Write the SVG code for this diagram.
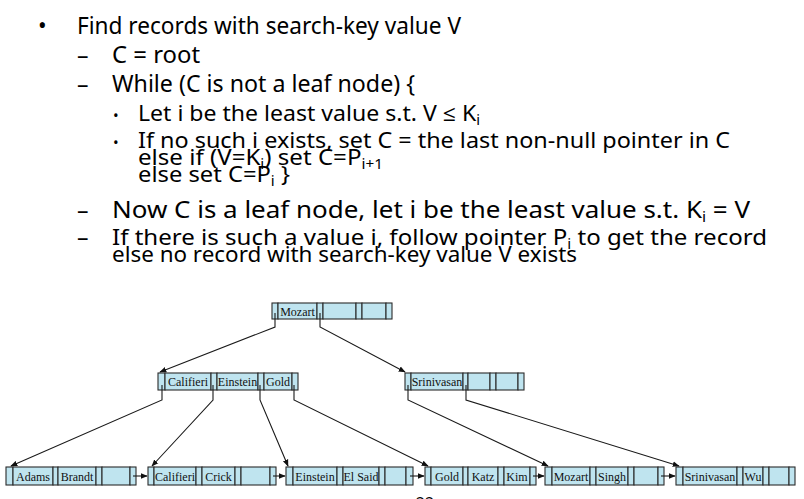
<svg xmlns="http://www.w3.org/2000/svg" width="804" height="499" viewBox="0 0 804 499">
<style>
.t{font-family:"Noto Sans","Open Sans",sans-serif;fill:#000}
.l1{font-size:23px}
.l3{font-size:22px}
.sub{font-size:14px}
.c{fill:#bfe4ef;stroke:#2b2b2b;stroke-width:1.1}
.k{font-family:"Liberation Serif","DejaVu Serif",serif;font-size:12px;fill:#111;text-anchor:middle}
.cn{fill:none;stroke:#1a1a1a;stroke-width:1.1}
</style>
<defs>
<marker id="ah" viewBox="0 0 10 10" refX="9" refY="5" markerWidth="7" markerHeight="7" markerUnits="userSpaceOnUse" orient="auto">
<path d="M0,1 L10,5 L0,9 z" fill="#111"/>
</marker>
</defs>
<g id="text">
<text class="t l1" x="38" y="34">•</text>
<text class="t l1" x="77" y="34" textLength="384" lengthAdjust="spacingAndGlyphs">Find records with search-key value V</text>
<text class="t l1" x="77" y="63">–</text>
<text class="t l1" x="112" y="63" textLength="88" lengthAdjust="spacingAndGlyphs">C = root</text>
<text class="t l1" x="77" y="92">–</text>
<text class="t l1" x="112" y="92" textLength="303" lengthAdjust="spacingAndGlyphs">While (C is not a leaf node) {</text>
<text class="t" font-size="15" x="113" y="121">•</text>
<text class="t l3" x="138" y="121" textLength="342" lengthAdjust="spacingAndGlyphs">Let i be the least value s.t. V ≤ K<tspan class="sub" dy="4">i</tspan></text>
<text class="t" font-size="15" x="113" y="148">•</text>
<text class="t l3" x="138" y="148" textLength="592" lengthAdjust="spacingAndGlyphs">If no such i exists, set C = the last non-null pointer in C</text>
<text class="t l3" x="138" y="165" textLength="245" lengthAdjust="spacingAndGlyphs">else if (V=K<tspan class="sub" dy="4">i</tspan><tspan dy="-4">) set C=P</tspan><tspan class="sub" dy="4">i+1</tspan></text>
<text class="t l3" x="138" y="182" textLength="152" lengthAdjust="spacingAndGlyphs">else set C=P<tspan class="sub" dy="4">i</tspan><tspan dy="-4"> }</tspan></text>
<text class="t l1" x="77" y="218">–</text>
<text class="t l1" x="112" y="218" textLength="638" lengthAdjust="spacingAndGlyphs">Now C is a leaf node, let i be the least value s.t. K<tspan class="sub" dy="4">i</tspan><tspan dy="-4"> = V</tspan></text>
<text class="t l1" x="77" y="245">–</text>
<text class="t l3" x="112" y="245" textLength="655" lengthAdjust="spacingAndGlyphs">If there is such a value i,  follow pointer P<tspan class="sub" dy="4">i</tspan><tspan dy="-4"> to get the record</tspan></text>
<text class="t l3" x="112" y="262" textLength="465" lengthAdjust="spacingAndGlyphs">else no record with search-key value V exists</text>
</g>
<g id="node-root">
<rect class="c" x="272" y="303" width="6" height="16"/><rect class="c" x="278" y="303" width="39" height="16"/><rect class="c" x="317" y="303" width="6" height="16"/><rect class="c" x="323" y="303" width="33" height="16"/><rect class="c" x="356" y="303" width="6" height="16"/><rect class="c" x="362" y="303" width="24" height="16"/><rect class="c" x="386" y="303" width="6" height="16"/>
<text class="k" x="297.5" y="315.5">Mozart</text>
</g>
<g id="node-int1">
<rect class="c" x="158" y="373" width="7" height="17"/><rect class="c" x="165" y="373" width="46" height="17"/><rect class="c" x="211" y="373" width="6" height="17"/><rect class="c" x="217" y="373" width="41" height="17"/><rect class="c" x="258" y="373" width="6" height="17"/><rect class="c" x="264" y="373" width="28" height="17"/><rect class="c" x="292" y="373" width="6" height="17"/>
<text class="k" x="188" y="386">Califieri</text><text class="k" x="237.5" y="386">Einstein</text><text class="k" x="278" y="386">Gold</text>
</g>
<g id="node-int2">
<rect class="c" x="405" y="373" width="6" height="17"/><rect class="c" x="411" y="373" width="52" height="17"/><rect class="c" x="463" y="373" width="5" height="17"/><rect class="c" x="468" y="373" width="22" height="17"/><rect class="c" x="490" y="373" width="6" height="17"/><rect class="c" x="496" y="373" width="22" height="17"/><rect class="c" x="518" y="373" width="6" height="17"/>
<text class="k" x="437" y="386">Srinivasan</text>
</g>
<g id="leaf-1">
<rect class="c" x="6" y="467" width="7" height="18"/><rect class="c" x="13" y="467" width="40" height="18"/><rect class="c" x="53" y="467" width="5" height="18"/><rect class="c" x="58" y="467" width="38" height="18"/><rect class="c" x="96" y="467" width="6" height="18"/><rect class="c" x="102" y="467" width="28" height="18"/><rect class="c" x="130" y="467" width="6" height="18"/>
<text class="k" x="33" y="480.5">Adams</text><text class="k" x="77" y="480.5">Brandt</text>
</g>
<g id="leaf-2">
<rect class="c" x="148" y="467" width="6" height="18"/><rect class="c" x="154" y="467" width="42" height="18"/><rect class="c" x="196" y="467" width="6" height="18"/><rect class="c" x="202" y="467" width="33" height="18"/><rect class="c" x="235" y="467" width="6" height="18"/><rect class="c" x="241" y="467" width="29" height="18"/><rect class="c" x="270" y="467" width="6" height="18"/>
<text class="k" x="175" y="480.5">Califieri</text><text class="k" x="218.5" y="480.5">Crick</text>
</g>
<g id="leaf-3">
<rect class="c" x="286" y="467" width="7" height="18"/><rect class="c" x="293" y="467" width="44" height="18"/><rect class="c" x="337" y="467" width="6" height="18"/><rect class="c" x="343" y="467" width="36" height="18"/><rect class="c" x="379" y="467" width="6" height="18"/><rect class="c" x="385" y="467" width="21" height="18"/><rect class="c" x="406" y="467" width="7" height="18"/>
<text class="k" x="315" y="480.5">Einstein</text><text class="k" x="361" y="480.5">El Said</text>
</g>
<g id="leaf-4">
<rect class="c" x="425" y="467" width="6" height="18"/><rect class="c" x="431" y="467" width="32" height="18"/><rect class="c" x="463" y="467" width="5" height="18"/><rect class="c" x="468" y="467" width="30" height="18"/><rect class="c" x="498" y="467" width="6" height="18"/><rect class="c" x="504" y="467" width="26" height="18"/><rect class="c" x="530" y="467" width="6" height="18"/>
<text class="k" x="447" y="480.5">Gold</text><text class="k" x="483" y="480.5">Katz</text><text class="k" x="517" y="480.5">Kim</text>
</g>
<g id="leaf-5">
<rect class="c" x="545" y="467" width="7" height="18"/><rect class="c" x="552" y="467" width="38" height="18"/><rect class="c" x="590" y="467" width="6" height="18"/><rect class="c" x="596" y="467" width="32" height="18"/><rect class="c" x="628" y="467" width="6" height="18"/><rect class="c" x="634" y="467" width="24" height="18"/><rect class="c" x="658" y="467" width="6" height="18"/>
<text class="k" x="571" y="480.5">Mozart</text><text class="k" x="612" y="480.5">Singh</text>
</g>
<g id="leaf-6">
<rect class="c" x="676" y="467" width="7" height="18"/><rect class="c" x="683" y="467" width="54" height="18"/><rect class="c" x="737" y="467" width="6" height="18"/><rect class="c" x="743" y="467" width="20" height="18"/><rect class="c" x="763" y="467" width="6" height="18"/><rect class="c" x="769" y="467" width="20" height="18"/><rect class="c" x="789" y="467" width="6" height="18"/>
<text class="k" x="710" y="480.5">Srinivasan</text><text class="k" x="753" y="480.5">Wu</text>
</g>
<g id="connectors">
<polyline class="cn" points="275,313 275,327 160,372" marker-end="url(#ah)"/>
<polyline class="cn" points="320,313 320,327 405,372" marker-end="url(#ah)"/>
<polyline class="cn" points="162,385 162,400 11,466" marker-end="url(#ah)"/>
<polyline class="cn" points="213,385 213,400 152,466" marker-end="url(#ah)"/>
<polyline class="cn" points="260,385 260,400 288,466" marker-end="url(#ah)"/>
<polyline class="cn" points="294,385 294,400 428,466" marker-end="url(#ah)"/>
<polyline class="cn" points="408,385 408,400 548,466" marker-end="url(#ah)"/>
<polyline class="cn" points="466,385 466,400 679,466" marker-end="url(#ah)"/>
<line class="cn" x1="133" y1="476" x2="147" y2="476" marker-end="url(#ah)"/>
<line class="cn" x1="273" y1="476" x2="285" y2="476" marker-end="url(#ah)"/>
<line class="cn" x1="410" y1="476" x2="424" y2="476" marker-end="url(#ah)"/>
<line class="cn" x1="533" y1="476" x2="544" y2="476" marker-end="url(#ah)"/>
<line class="cn" x1="661" y1="476" x2="675" y2="476" marker-end="url(#ah)"/>
</g>
<text class="t" font-size="16" x="425" y="509" text-anchor="middle">22</text>
</svg>
